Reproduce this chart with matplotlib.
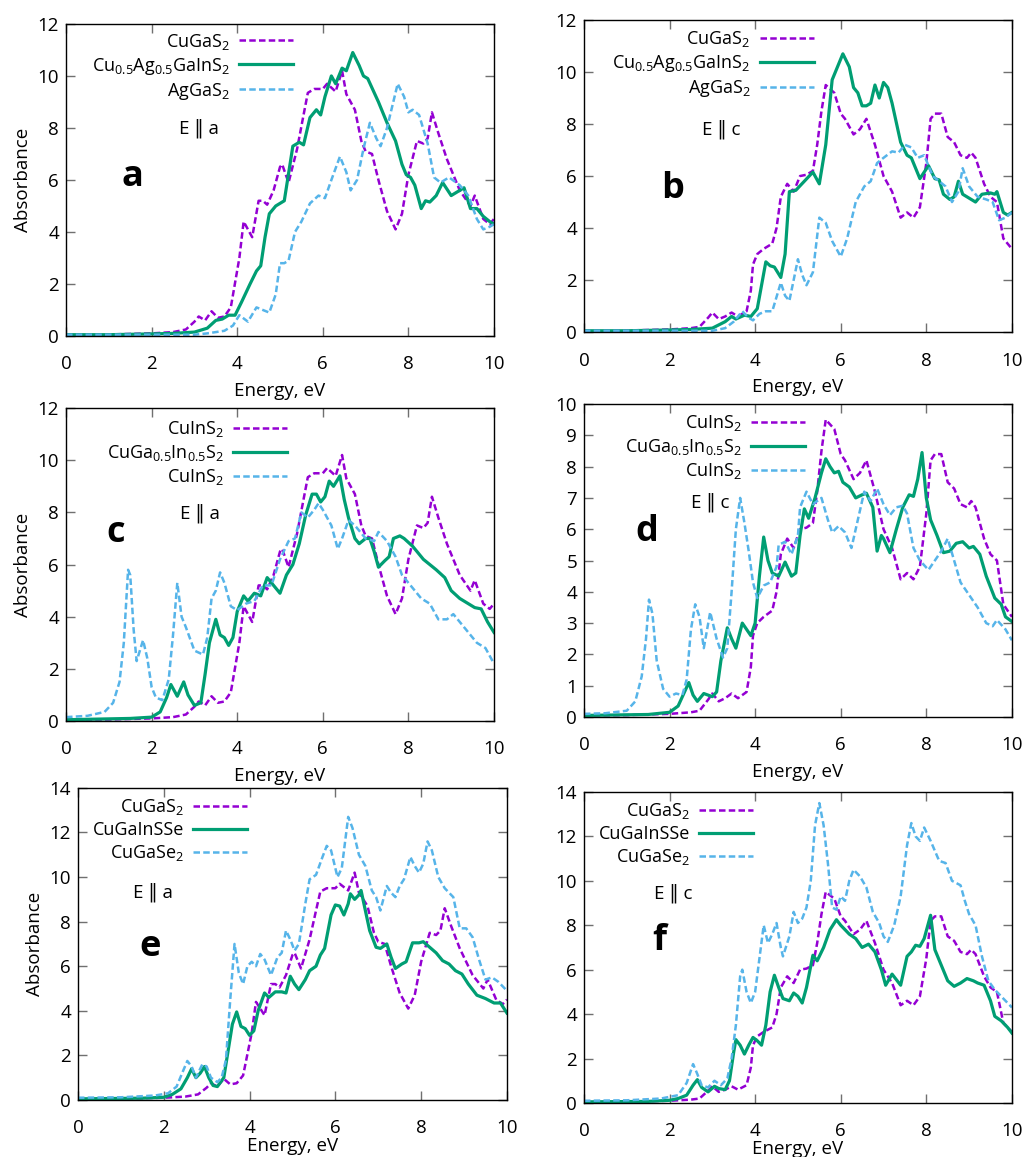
import matplotlib
matplotlib.use("Agg")
import matplotlib.pyplot as plt
from matplotlib.lines import Line2D

plt.rcParams["font.family"] = ["Open Sans", "DejaVu Sans"]
plt.rcParams["mathtext.fontset"] = "custom"
plt.rcParams["mathtext.rm"] = "Open Sans"
plt.rcParams["mathtext.it"] = "Open Sans:italic"
plt.rcParams["mathtext.bf"] = "Open Sans:bold"

PURPLE = "#9400d3"
GREEN = "#009e73"
BLUE = "#56b4e9"

# CuGaS2, E || a (panels a, c, e)
cugas2_a_x = [0, 1.0, 2.0, 2.5, 2.8, 3.0, 3.1, 3.25, 3.4, 3.55, 3.7, 3.85, 4.05, 4.15, 4.25, 4.35,
              4.5, 4.6, 4.7, 4.85, 5.0, 5.05, 5.2, 5.4, 5.55, 5.65, 5.8, 6.0, 6.1, 6.3, 6.45, 6.55,
              6.75, 6.9, 7.0, 7.15, 7.3, 7.5, 7.7, 7.85, 8.0, 8.2, 8.35, 8.45, 8.55, 8.7, 8.9, 9.2,
              9.45, 9.55, 9.75, 9.9, 10.0]
cugas2_a_y = [0.05, 0.06, 0.1, 0.15, 0.25, 0.55, 0.75, 0.6, 0.95, 0.7, 0.75, 1.1, 3.0, 4.4, 4.1, 3.8,
              5.2, 5.2, 5.05, 5.6, 6.5, 6.6, 5.9, 7.2, 8.5, 9.35, 9.5, 9.5, 9.7, 9.4, 10.2, 9.3,
              8.7, 7.5, 7.1, 7.0, 6.0, 4.8, 4.1, 4.7, 6.2, 7.5, 7.4, 7.6, 8.6, 7.8, 6.8, 5.6,
              5.0, 5.4, 4.5, 4.3, 4.5]

# CuGaS2, E || c (panels b, d, f)
cugas2_c_x = [0, 1.0, 2.0, 2.5, 2.7, 2.9, 3.0, 3.15, 3.3, 3.45, 3.6, 3.8, 3.9, 3.95, 4.05, 4.2, 4.4,
              4.5, 4.6, 4.75, 4.9, 5.05, 5.2, 5.35, 5.45, 5.55, 5.65, 5.75, 5.85, 6.0, 6.1, 6.3,
              6.45, 6.6, 6.8, 7.0, 7.2, 7.4, 7.55, 7.7, 7.85, 8.0, 8.1, 8.2, 8.35, 8.5, 8.65, 8.8,
              8.95, 9.05, 9.15, 9.35, 9.5, 9.65, 9.8, 10.0]
cugas2_c_y = [0.05, 0.06, 0.1, 0.15, 0.2, 0.55, 0.75, 0.5, 0.6, 0.75, 0.6, 0.8, 1.6, 2.6, 3.0, 3.2, 3.4,
              4.0, 5.2, 5.7, 5.4, 6.0, 6.05, 6.2, 7.2, 8.5, 9.5, 9.35, 9.2, 8.4, 8.2, 7.6,
              7.8, 8.2, 7.2, 6.0, 5.4, 4.4, 4.6, 4.4, 4.8, 6.5, 8.2, 8.4, 8.4, 7.5, 7.3, 6.8,
              6.7, 6.9, 6.7, 5.7, 5.2, 5.0, 3.6, 3.2]

# panel a
mix_a_x = [0, 1.0, 2.0, 2.5, 3.0, 3.3, 3.5, 3.65, 3.8, 3.95, 4.1, 4.3, 4.45, 4.55, 4.65, 4.75, 4.9,
           5.1, 5.3, 5.45, 5.55, 5.7, 5.85, 5.95, 6.05, 6.2, 6.3, 6.45, 6.55, 6.7, 6.85, 6.95,
           7.05, 7.3, 7.5, 7.7, 7.85, 7.95, 8.05, 8.15, 8.3, 8.4, 8.5, 8.65, 8.8, 9.0, 9.1, 9.3,
           9.45, 9.6, 9.75, 9.9, 10.0]
mix_a_y = [0.05, 0.05, 0.08, 0.1, 0.15, 0.3, 0.6, 0.65, 0.8, 0.8, 1.3, 2.0, 2.5, 2.7, 3.8, 4.7, 5.0,
           5.2, 7.3, 7.45, 7.35, 8.4, 8.7, 8.5, 9.2, 10.0, 9.7, 10.3, 10.2, 10.9, 10.4, 10.0,
           9.9, 9.0, 8.2, 7.5, 6.6, 6.2, 6.1, 5.8, 4.9, 5.2, 5.15, 5.4, 5.9, 5.4, 5.5, 5.7,
           4.9, 4.9, 4.6, 4.4, 4.3]
aggas2_a_x = [0, 1.0, 2.0, 3.0, 3.3, 3.7, 3.9, 4.05, 4.25, 4.45, 4.6, 4.75, 4.9, 5.0, 5.1, 5.2, 5.35,
              5.5, 5.7, 5.9, 6.05, 6.2, 6.4, 6.55, 6.65, 6.8, 6.95, 7.1, 7.25, 7.35, 7.5, 7.75,
              7.9, 8.0, 8.1, 8.25, 8.45, 8.6, 8.75, 8.95, 9.2, 9.4, 9.6, 9.75, 9.9, 10.0]
aggas2_a_y = [0.05, 0.05, 0.05, 0.05, 0.1, 0.2, 0.4, 0.8, 0.55, 1.1, 1.0, 0.9, 1.6, 2.8, 2.8, 2.9, 4.0,
              4.4, 5.1, 5.4, 5.3, 6.0, 6.9, 6.3, 5.6, 6.0, 7.2, 8.2, 7.6, 7.3, 8.0, 9.7,
              9.2, 8.6, 8.7, 8.5, 7.4, 6.1, 5.9, 6.1, 5.8, 5.4, 4.5, 4.1, 4.2, 4.3]

# panel b
mix_c_x = [0, 1.0, 2.0, 2.5, 3.0, 3.3, 3.45, 3.55, 3.75, 3.9, 4.05, 4.15, 4.25, 4.35, 4.45, 4.6, 4.7,
           4.8, 4.95, 5.15, 5.35, 5.5, 5.65, 5.8, 5.95, 6.05, 6.2, 6.3, 6.4, 6.5, 6.6, 6.7, 6.8,
           6.9, 7.0, 7.1, 7.2, 7.4, 7.55, 7.65, 7.85, 8.05, 8.2, 8.3, 8.4, 8.55, 8.65, 8.75,
           8.85, 9.0, 9.15, 9.3, 9.5, 9.6, 9.65, 9.8, 9.9, 10.0]
mix_c_y = [0.05, 0.05, 0.08, 0.1, 0.15, 0.4, 0.6, 0.5, 0.65, 0.6, 0.9, 1.8, 2.7, 2.55, 2.5, 2.1, 3.0,
           5.4, 5.45, 5.8, 6.15, 5.7, 7.2, 9.7, 10.3, 10.7, 10.2, 9.4, 9.2, 8.7, 8.7, 8.8, 9.5,
           9.0, 9.6, 9.4, 8.8, 7.3, 6.8, 6.7, 5.9, 6.4, 5.9, 5.85, 5.3, 5.1, 5.2, 5.8,
           5.3, 5.15, 5.0, 5.3, 5.35, 5.3, 5.4, 4.6, 4.5, 4.6]
aggas2_c_x = [0, 1.0, 2.0, 3.0, 3.3, 3.5, 3.7, 3.85, 3.95, 4.1, 4.25, 4.4, 4.6, 4.7, 4.8, 5.0, 5.1,
              5.2, 5.35, 5.5, 5.65, 5.8, 6.0, 6.15, 6.35, 6.55, 6.7, 6.85, 7.0, 7.2, 7.35, 7.5,
              7.65, 7.8, 7.95, 8.05, 8.15, 8.3, 8.45, 8.6, 8.75, 8.85, 9.0, 9.2, 9.4, 9.55, 9.7,
              9.85, 10.0]
aggas2_c_y = [0.05, 0.05, 0.05, 0.05, 0.15, 0.4, 0.8, 0.55, 0.45, 0.7, 0.8, 0.8, 1.9, 1.4, 1.2, 2.8, 2.2,
              1.8, 2.3, 4.4, 4.2, 3.5, 2.9, 3.6, 5.0, 5.6, 5.8, 6.5, 6.7, 6.95, 6.9, 7.2,
              7.1, 6.7, 6.8, 6.4, 6.0, 5.8, 5.6, 5.0, 5.4, 6.3, 5.6, 5.2, 5.1, 5.0, 4.3,
              4.4, 4.6]

# panel c
cugain_a_x = [0, 1.5, 2.0, 2.2, 2.35, 2.45, 2.55, 2.6, 2.75, 2.85, 3.0, 3.15, 3.25, 3.35, 3.5, 3.6,
              3.7, 3.8, 3.9, 4.0, 4.15, 4.25, 4.4, 4.55, 4.7, 4.8, 5.0, 5.15, 5.3, 5.45, 5.6, 5.75,
              5.85, 5.95, 6.05, 6.15, 6.25, 6.4, 6.5, 6.6, 6.75, 6.85, 7.0, 7.1, 7.2, 7.3, 7.45,
              7.55, 7.65, 7.8, 7.9, 8.1, 8.35, 8.5, 8.65, 8.85, 9.0, 9.2, 9.4, 9.55, 9.7, 9.85, 10.0]
cugain_a_y = [0.05, 0.1, 0.15, 0.35, 0.9, 1.4, 1.1, 0.95, 1.5, 1.0, 0.6, 0.7, 1.8, 3.0, 3.9, 3.3,
              3.2, 2.9, 3.2, 4.2, 4.8, 4.6, 4.9, 4.8, 5.5, 5.3, 4.9, 5.6, 6.0, 6.8, 7.9, 8.7,
              8.7, 8.4, 8.6, 9.2, 9.0, 9.4, 8.5, 7.8, 7.0, 6.8, 7.0, 7.0, 6.5, 5.9, 6.15,
              6.3, 7.0, 7.1, 7.0, 6.7, 6.2, 6.0, 5.8, 5.5, 5.0, 4.7, 4.5, 4.35, 4.3, 3.8, 3.4]
cuins2_a_x = [0, 0.5, 0.9, 1.1, 1.25, 1.35, 1.45, 1.5, 1.58, 1.65, 1.8, 1.9, 2.0, 2.1, 2.25, 2.4, 2.5,
              2.6, 2.7, 2.8, 3.0, 3.2, 3.3, 3.4, 3.5, 3.6, 3.7, 3.85, 4.0, 4.2, 4.4, 4.6, 4.8, 5.0,
              5.2, 5.35, 5.5, 5.65, 5.8, 5.9, 6.0, 6.2, 6.35, 6.45, 6.6, 6.75, 7.0, 7.2, 7.3, 7.5,
              7.7, 7.85, 8.05, 8.3, 8.5, 8.7, 8.9, 9.05, 9.3, 9.6, 9.8, 10.0]
cuins2_a_y = [0.15, 0.2, 0.35, 0.7, 1.5, 3.0, 5.8, 5.6, 3.5, 2.3, 3.1, 2.4, 1.3, 0.9, 0.8, 1.6, 3.3,
              5.3, 4.0, 3.6, 2.7, 2.55, 3.2, 4.7, 5.0, 5.7, 5.3, 4.4, 4.25, 4.5, 4.6, 5.2, 5.2, 6.2,
              6.9, 7.0, 8.0, 7.8, 8.1, 8.35, 8.1, 7.5, 6.6, 7.0, 7.7, 7.5, 7.0, 6.9, 7.25, 6.9,
              6.3, 5.6, 5.2, 4.7, 4.5, 3.9, 3.9, 4.1, 3.6, 3.0, 2.8, 2.2]

# panel d
cugain_c_x = [0, 1.5, 2.0, 2.2, 2.35, 2.45, 2.55, 2.65, 2.8, 2.9, 3.0, 3.1, 3.2, 3.35, 3.45, 3.55,
              3.7, 3.8, 3.9, 4.0, 4.1, 4.2, 4.3, 4.4, 4.55, 4.7, 4.85, 4.95, 5.05, 5.15, 5.25, 5.4,
              5.55, 5.65, 5.75, 5.85, 5.95, 6.05, 6.2, 6.35, 6.5, 6.6, 6.75, 6.85, 6.95, 7.0, 7.15,
              7.3, 7.45, 7.6, 7.7, 7.8, 7.9, 8.0, 8.1, 8.25, 8.4, 8.55, 8.7, 8.85, 9.0, 9.1, 9.25,
              9.4, 9.6, 9.75, 9.85, 10.0]
cugain_c_y = [0.05, 0.08, 0.15, 0.35, 0.8, 1.1, 0.7, 0.5, 0.75, 0.7, 0.65, 0.8, 1.8, 2.85, 2.5, 2.2,
              3.0, 2.8, 2.6, 3.0, 4.5, 5.75, 5.0, 4.6, 4.5, 4.95, 4.5, 4.6, 5.8, 6.65, 6.35, 7.0,
              7.8, 8.25, 8.0, 7.8, 7.85, 7.5, 7.35, 7.0, 7.1, 7.15, 6.7, 5.3, 5.8, 5.7, 5.25,
              6.0, 6.7, 7.1, 7.05, 7.6, 8.45, 7.0, 6.3, 5.8, 5.25, 5.3, 5.55, 5.6, 5.4, 5.45, 5.2,
              4.5, 3.8, 3.6, 3.2, 3.05]
cuins2_c_x = [0, 0.5, 1.0, 1.2, 1.35, 1.45, 1.52, 1.6, 1.7, 1.85, 2.0, 2.15, 2.3, 2.4, 2.5, 2.6, 2.7,
              2.8, 2.95, 3.1, 3.25, 3.35, 3.45, 3.55, 3.65, 3.75, 3.85, 3.95, 4.05, 4.2, 4.35, 4.5,
              4.55, 4.7, 4.85, 5.0, 5.05, 5.2, 5.35, 5.55, 5.7, 5.8, 5.95, 6.1, 6.25, 6.4, 6.55,
              6.7, 6.85, 7.0, 7.15, 7.3, 7.45, 7.55, 7.7, 7.85, 8.05, 8.2, 8.35, 8.5, 8.65, 8.8,
              9.0, 9.2, 9.4, 9.55, 9.65, 9.85, 10.0]
cuins2_c_y = [0.1, 0.12, 0.2, 0.5, 1.3, 2.5, 3.75, 3.3, 1.8, 0.9, 0.65, 0.75, 0.7, 1.2, 2.8, 3.6, 3.2,
              2.2, 3.35, 2.5, 1.9, 2.2, 4.0, 6.0, 7.0, 6.2, 5.3, 4.3, 3.8, 4.2, 4.3, 4.8,
              5.5, 5.6, 5.2, 5.8, 6.7, 7.2, 6.8, 7.0, 6.3, 5.9, 6.1, 5.9, 5.4, 6.3, 7.2,
              6.9, 7.3, 6.8, 6.45, 6.7, 6.75, 6.5, 5.4, 5.0, 4.7, 5.0, 5.3, 5.7, 5.0, 4.3,
              3.9, 3.5, 3.0, 2.9, 3.1, 2.8, 2.45]

# panel e
sse_a_x = [0, 1.5, 2.0, 2.2, 2.4, 2.55, 2.65, 2.75, 2.85, 2.95, 3.05, 3.15, 3.25, 3.4, 3.5, 3.6, 3.7,
           3.8, 3.9, 4.0, 4.1, 4.2, 4.35, 4.45, 4.6, 4.75, 4.85, 4.95, 5.05, 5.15, 5.3, 5.4, 5.55,
           5.65, 5.75, 5.9, 6.0, 6.1, 6.2, 6.3, 6.35, 6.45, 6.55, 6.6, 6.7, 6.8, 6.95, 7.05, 7.2,
           7.3, 7.4, 7.55, 7.65, 7.8, 7.95, 8.05, 8.2, 8.35, 8.5, 8.65, 8.8, 8.95, 9.1, 9.3, 9.5,
           9.7, 9.85, 10.0]
sse_a_y = [0.05, 0.08, 0.12, 0.25, 0.5, 1.0, 1.4, 1.0, 1.2, 1.5, 1.0, 0.65, 0.6, 1.0, 2.2, 3.4, 3.95,
           3.3, 3.2, 2.9, 3.1, 4.0, 4.8, 4.6, 4.85, 4.85, 4.8, 5.55, 5.2, 4.95, 5.4, 5.8, 6.0,
           6.5, 6.8, 8.3, 8.75, 8.7, 8.3, 8.8, 9.25, 9.0, 9.2, 9.4, 8.5, 7.6, 6.85, 6.8, 7.0,
           6.4, 5.9, 6.1, 6.2, 7.05, 7.05, 7.1, 6.85, 6.6, 6.25, 6.1, 5.8, 5.65, 5.2, 4.7, 4.55,
           4.35, 4.35, 3.9]
cugase2_a_x = [0, 1.0, 1.8, 2.1, 2.3, 2.45, 2.55, 2.65, 2.75, 2.9, 3.0, 3.1, 3.25, 3.35, 3.45, 3.55,
               3.65, 3.75, 3.85, 3.95, 4.05, 4.15, 4.25, 4.35, 4.5, 4.65, 4.75, 4.85, 4.95, 5.05,
               5.15, 5.3, 5.4, 5.55, 5.7, 5.8, 5.9, 6.05, 6.15, 6.3, 6.4, 6.55, 6.7, 6.85, 6.95,
               7.05, 7.2, 7.3, 7.4, 7.5, 7.6, 7.75, 7.85, 7.95, 8.05, 8.15, 8.25, 8.4, 8.55, 8.75,
               8.9, 9.05, 9.2, 9.35, 9.5, 9.65, 9.8, 10.0]
cugase2_a_y = [0.1, 0.12, 0.2, 0.3, 0.6, 1.3, 1.75, 1.5, 1.0, 1.6, 1.5, 1.0, 0.8, 1.0, 1.8, 4.5,
               7.0, 5.7, 5.2, 6.0, 6.2, 6.0, 6.55, 6.3, 5.6, 6.4, 6.6, 7.6, 7.2, 6.7,
               7.0, 8.8, 9.9, 10.1, 10.9, 11.4, 11.2, 10.0, 10.4, 12.7, 12.2, 11.0, 10.5, 9.4, 9.1,
               8.5, 9.6, 9.3, 9.1, 9.6, 9.9, 10.9, 10.5, 10.2, 10.6, 11.6, 11.2, 10.0, 9.5, 9.1,
               7.7, 7.7, 7.3, 6.3, 5.4, 5.5, 5.3, 4.9]

# panel f
sse_c_x = [0, 1.5, 2.0, 2.2, 2.4, 2.55, 2.65, 2.75, 2.9, 3.05, 3.15, 3.3, 3.4, 3.5, 3.55, 3.65, 3.75,
           3.85, 3.95, 4.05, 4.15, 4.25, 4.35, 4.45, 4.55, 4.65, 4.8, 4.9, 5.0, 5.1, 5.2, 5.35,
           5.45, 5.6, 5.75, 5.9, 6.0, 6.1, 6.2, 6.35, 6.5, 6.65, 6.8, 6.95, 7.05, 7.2, 7.3, 7.4,
           7.55, 7.65, 7.75, 7.85, 7.95, 8.1, 8.2, 8.35, 8.5, 8.65, 8.8, 8.95, 9.1, 9.2, 9.35,
           9.5, 9.6, 9.75, 9.9, 10.0]
sse_c_y = [0.05, 0.07, 0.12, 0.2, 0.35, 0.8, 1.05, 0.7, 0.5, 0.75, 0.65, 0.6, 1.0, 2.3, 2.85, 2.6, 2.2,
           2.6, 2.95, 2.8, 2.6, 3.5, 5.0, 5.75, 5.2, 4.7, 4.6, 4.95, 4.8, 4.5, 5.2, 6.65,
           6.4, 7.0, 7.8, 8.25, 8.0, 7.8, 7.6, 7.4, 7.0, 7.15, 6.8, 6.0, 5.3, 5.8, 5.55, 5.3,
           6.6, 6.8, 7.1, 7.05, 7.4, 8.45, 6.9, 6.2, 5.5, 5.25, 5.4, 5.6, 5.5, 5.4, 5.3,
           4.6, 3.9, 3.7, 3.4, 3.15]
cugase2_c_x = [0, 1.0, 1.8, 2.2, 2.4, 2.55, 2.65, 2.75, 2.9, 3.05, 3.2, 3.35, 3.45, 3.55, 3.65, 3.7,
               3.8, 3.9, 4.0, 4.1, 4.2, 4.3, 4.4, 4.5, 4.6, 4.65, 4.8, 4.9, 5.0, 5.1, 5.2, 5.3, 5.4,
               5.5, 5.6, 5.7, 5.8, 5.9, 6.0, 6.1, 6.2, 6.3, 6.45, 6.6, 6.75, 6.9, 7.0, 7.1, 7.25,
               7.4, 7.55, 7.65, 7.75, 7.85, 7.95, 8.1, 8.3, 8.45, 8.6, 8.8, 8.9, 9.0, 9.15, 9.3,
               9.45, 9.6, 9.75, 9.9, 10.0]
cugase2_c_y = [0.1, 0.12, 0.2, 0.35, 0.9, 1.75, 1.3, 0.8, 0.7, 1.0, 0.8, 1.1, 2.0, 3.5, 5.7, 6.0,
               5.0, 4.5, 5.0, 6.5, 8.0, 7.2, 7.6, 8.1, 7.0, 6.6, 7.5, 8.6, 8.1, 8.3, 8.8, 10.0, 12.5,
               13.5, 12.5, 10.8, 8.8, 8.7, 9.3, 9.1, 10.0, 10.5, 10.2, 9.7, 8.6, 8.1, 7.5, 7.25, 8.0,
               9.3, 11.6, 12.6, 12.0, 11.8, 12.4, 11.8, 10.9, 10.8, 10.0, 9.8, 9.1, 8.5, 8.0, 6.6,
               5.5, 5.1, 4.8, 4.5, 4.3]

labels_ab = [r"CuGaS$_2$", r"Cu$_{0.5}$Ag$_{0.5}$GaInS$_2$", r"AgGaS$_2$"]
labels_cd = [r"CuInS$_2$", r"CuGa$_{0.5}$In$_{0.5}$S$_2$", r"CuInS$_2$"]
labels_ef = [r"CuGaS$_2$", "CuGaInSSe", r"CuGaSe$_2$"]

FS = 13.5
LEG_FS = 13
DASH = (0, (2.6, 1.3))


def draw_panel(ax, series, labels, pol, letter, ymax, ystep, leg_xy, pol_xy, let_xy, ylabel,
               xlabelpad=6):
    styles = [(PURPLE, DASH, 1.8), (GREEN, "-", 2.3), (BLUE, DASH, 1.8)]
    handles = []
    for (x, y), (col, ls, lw) in zip(series, styles):
        ax.plot(x, y, color=col, linestyle=ls, linewidth=lw)
        handles.append(Line2D([], [], color=col, linestyle=ls, linewidth=lw))
    ax.set_xlim(0, 10)
    ax.set_ylim(0, ymax)
    ax.set_xticks(range(0, 11, 2))
    ax.set_yticks(range(0, ymax + 1, ystep))
    ax.tick_params(direction="in", top=True, right=True, length=6.5, width=1,
                   color="#707070", labelsize=FS)
    ax.tick_params(axis="x", pad=14)
    ax.tick_params(axis="y", pad=5)
    for sp in ax.spines.values():
        sp.set_linewidth(1.0)
    ax.set_xlabel("Energy, eV", fontsize=FS, labelpad=xlabelpad)
    if ylabel:
        ax.set_ylabel("Absorbance", fontsize=FS, labelpad=4)
    ax.legend(handles, labels, loc="upper right", bbox_to_anchor=leg_xy, markerfirst=False,
              frameon=False, fontsize=LEG_FS, handlelength=3.0, handletextpad=0.5,
              labelspacing=0.22, borderpad=0, borderaxespad=0)
    ax.text(pol_xy[0], pol_xy[1], pol, transform=ax.transAxes, ha="center", va="center",
            fontsize=FS)
    ax.text(let_xy[0], let_xy[1], letter, transform=ax.transAxes, ha="center", va="center",
            fontsize=26, fontweight="bold")


fig = plt.figure(figsize=(10.27, 11.57), dpi=100)
ax_a = fig.add_axes([0.0643, 0.7096, 0.4167, 0.2697])
ax_b = fig.add_axes([0.5686, 0.7130, 0.4167, 0.2697])
ax_c = fig.add_axes([0.0643, 0.3768, 0.4167, 0.2705])
ax_d = fig.add_axes([0.5686, 0.3803, 0.4167, 0.2705])
ax_e = fig.add_axes([0.0759, 0.0493, 0.4177, 0.2697])
ax_f = fig.add_axes([0.5686, 0.0467, 0.4167, 0.2688])

draw_panel(ax_a, [(cugas2_a_x, cugas2_a_y), (mix_a_x, mix_a_y), (aggas2_a_x, aggas2_a_y)],
           labels_ab, "E ‖ a", "a", 12, 2, (0.53, 0.975), (0.31, 0.667), (0.154, 0.51), True)
draw_panel(ax_b, [(cugas2_c_x, cugas2_c_y), (mix_c_x, mix_c_y), (aggas2_c_x, aggas2_c_y)],
           labels_ab, "E ‖ c", "b", 12, 2, (0.537, 0.97), (0.32, 0.65), (0.208, 0.46), False)
draw_panel(ax_c, [(cugas2_a_x, cugas2_a_y), (cugain_a_x, cugain_a_y), (cuins2_a_x, cuins2_a_y)],
           labels_cd, "E ‖ a", "c", 12, 2, (0.516, 0.965), (0.313, 0.665), (0.117, 0.60), True)
draw_panel(ax_d, [(cugas2_c_x, cugas2_c_y), (cugain_c_x, cugain_c_y), (cuins2_c_x, cuins2_c_y)],
           labels_cd, "E ‖ c", "d", 10, 1, (0.516, 0.97), (0.294, 0.687), (0.147, 0.59), False)
draw_panel(ax_e, [(cugas2_a_x, cugas2_a_y), (sse_a_x, sse_a_y), (cugase2_a_x, cugase2_a_y)],
           labels_ef, "E ‖ a", "e", 14, 2, (0.394, 0.97), (0.175, 0.667), (0.168, 0.49), True,
           xlabelpad=0)
draw_panel(ax_f, [(cugas2_c_x, cugas2_c_y), (sse_c_x, sse_c_y), (cugase2_c_x, cugase2_c_y)],
           labels_ef, "E ‖ c", "f", 14, 2, (0.395, 0.97), (0.208, 0.675), (0.175, 0.52), False,
           xlabelpad=0)

fig.savefig("out.png", dpi=100)
